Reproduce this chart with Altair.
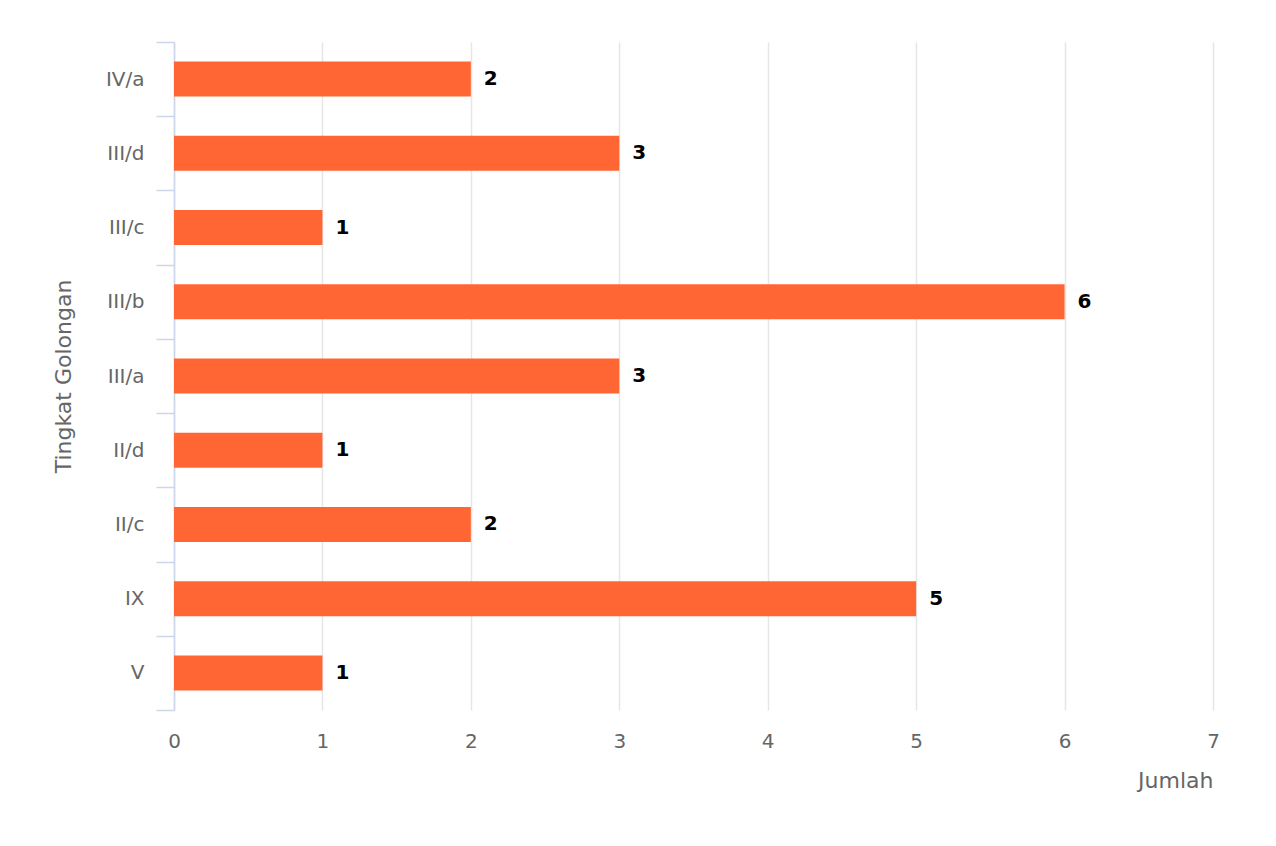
import altair as alt
import pandas as pd

categories = ["IV/a", "III/d", "III/c", "III/b", "III/a", "II/d", "II/c", "IX", "V"]
values = [2, 3, 1, 6, 3, 1, 2, 5, 1]
x_ticks = [0, 1, 2, 3, 4, 5, 6, 7]

df = pd.DataFrame({"golongan": categories, "jumlah": values})

FONT = "DejaVu Sans"

y_enc = alt.Y(
    "golongan:N",
    sort=categories,
    title="Tingkat Golongan",
    scale=alt.Scale(paddingInner=0, paddingOuter=0),
    axis=alt.Axis(
        tickBand="extent",
        tickSize=18,
        tickColor="#ccd6eb",
        tickWidth=1.5,
        domainColor="#ccd6eb",
        domainWidth=1.5,
        labelPadding=12,
        labelFontSize=20,
        labelColor="#666666",
        labelFont=FONT,
        grid=False,
        titleFont=FONT,
        titleFontSize=22,
        titleFontWeight="normal",
        titleColor="#666666",
        titleX=-111,
        titleY=334,
        titleAngle=270,
        titleAlign="center",
        titleBaseline="middle",
    ),
)

x_enc = alt.X(
    "jumlah:Q",
    title="Jumlah",
    scale=alt.Scale(domain=[0, 7], nice=False),
    axis=alt.Axis(
        values=x_ticks,
        format="d",
        ticks=False,
        domain=False,
        grid=True,
        gridColor="#e6e6e6",
        gridWidth=1.5,
        labelFlush=False,
        labelPadding=21,
        labelFontSize=20,
        labelColor="#666666",
        labelFont=FONT,
        titleFont=FONT,
        titleFontSize=22,
        titleFontWeight="normal",
        titleColor="#666666",
        titleX=1039,
        titleY=70,
        titleAlign="right",
        titleBaseline="middle",
    ),
)

bars = alt.Chart(df).mark_bar(color="#FF6633", size=35).encode(x=x_enc, y=y_enc)

labels = alt.Chart(df).mark_text(
    align="left", baseline="middle", dx=13, fontWeight="bold",
    fontSize=20, font=FONT, color="#000000"
).encode(
    x=alt.X("jumlah:Q"),
    y=alt.Y("golongan:N", sort=categories),
    text="jumlah:Q",
)

chart = (
    alt.layer(bars, labels)
    .properties(
        width=1039,
        height=668,
        autosize=alt.AutoSizeParams(type="none"),
        padding={"left": 166, "top": 34, "right": 50, "bottom": 100},
    )
    .configure_view(stroke=None)
)

chart.save("out.html", embed_options={"renderer": "svg", "actions": False})
